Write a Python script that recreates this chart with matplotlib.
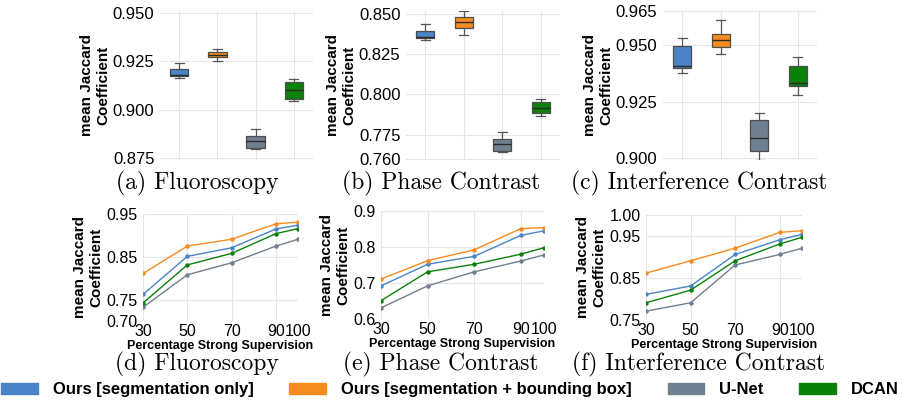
import matplotlib
matplotlib.use("Agg")
import matplotlib.pyplot as plt
from matplotlib.patches import Patch

plt.rcParams['font.family'] = ['Liberation Sans', 'DejaVu Sans']

# methods / colours
methods = ["Ours [segmentation only]", "Ours [segmentation + bounding box]", "U-Net", "DCAN"]
colors = ["#4a84c6", "#f68b1f", "#708090", "#0b800b"]

# box plot stats: (whislo, q1, med, q3, whishi) per method
fluo_box = [(0.9162, 0.9173, 0.9178, 0.9209, 0.9240),
            (0.9250, 0.9271, 0.9283, 0.9297, 0.9312),
            (0.8795, 0.8803, 0.8836, 0.8864, 0.8898),
            (0.9043, 0.9057, 0.9102, 0.9145, 0.9157)]
phase_box = [(0.8334, 0.8350, 0.8356, 0.8395, 0.8436),
             (0.8370, 0.8409, 0.8446, 0.8481, 0.8518),
             (0.7643, 0.7647, 0.7692, 0.7723, 0.7766),
             (0.7867, 0.7883, 0.7914, 0.7949, 0.7970)]
inter_box = [(0.9375, 0.9398, 0.9410, 0.9496, 0.9530),
             (0.9460, 0.9490, 0.9525, 0.9549, 0.9610),
             (0.8992, 0.9031, 0.9090, 0.9169, 0.9199),
             (0.9282, 0.9320, 0.9331, 0.9406, 0.9450)]

# line plots: percentage of strong supervision vs mean Jaccard
pct = [30, 50, 70, 90, 100]
fluo_lines = [[0.762, 0.851, 0.871, 0.915, 0.924],
              [0.811, 0.875, 0.891, 0.927, 0.931],
              [0.732, 0.808, 0.836, 0.875, 0.891],
              [0.742, 0.831, 0.858, 0.904, 0.916]]
phase_lines = [[0.692, 0.752, 0.774, 0.832, 0.845],
               [0.711, 0.762, 0.792, 0.851, 0.854],
               [0.631, 0.692, 0.731, 0.761, 0.778],
               [0.651, 0.731, 0.752, 0.780, 0.798]]
inter_lines = [[0.811, 0.831, 0.906, 0.941, 0.954],
               [0.8615, 0.891, 0.921, 0.9586, 0.9626],
               [0.771, 0.791, 0.881, 0.906, 0.921],
               [0.791, 0.821, 0.891, 0.931, 0.947]]

top_ticks = [[0.875, 0.900, 0.925, 0.950],
             [0.760, 0.775, 0.800, 0.825, 0.850],
             [0.900, 0.925, 0.950, 0.965]]
top_lims = [(0.874, 0.951), (0.7592, 0.8516), (0.8993, 0.9651)]
bot_ticks = [[0.70, 0.75, 0.85, 0.95],
             [0.6, 0.7, 0.8, 0.9],
             [0.75, 0.85, 0.95, 1.00]]
bot_fmt = ["{:.2f}", "{:.1f}", "{:.2f}"]
bot_lims = [(0.70, 0.95), (0.6, 0.9), (0.75, 1.0)]

top_caps = ["(a) Fluoroscopy", "(b) Phase Contrast", "(c) Interference Contrast"]
bot_caps = ["(d) Fluoroscopy", "(e) Phase Contrast", "(f) Interference Contrast"]

W, H = 902, 404
fig = plt.figure(figsize=(W / 100, H / 100), dpi=100)


def px_axes(x0, y0, x1, y1):
    return fig.add_axes([x0 / W, 1 - y1 / H, (x1 - x0) / W, (y1 - y0) / H])


def clean(ax):
    for s in ax.spines.values():
        s.set_visible(False)
    ax.grid(True, color="#e6e6e6", linewidth=0.8)
    ax.set_axisbelow(True)
    ax.tick_params(length=0, pad=4)


# top row: box plots
top_pos = [(160, 11, 313, 160), (406, 11, 560, 160), (663, 11, 817, 160)]
for i, (data, pos) in enumerate(zip([fluo_box, phase_box, inter_box], top_pos)):
    ax = px_axes(*pos)
    stats = [dict(whislo=d[0], q1=d[1], med=d[2], q3=d[3], whishi=d[4]) for d in data]
    bp = ax.bxp(stats, positions=range(4), widths=0.48, patch_artist=True, showfliers=False,
                medianprops=dict(color="#2b2b2b", linewidth=1.0),
                whiskerprops=dict(color="#555555", linewidth=0.9),
                capprops=dict(color="#555555", linewidth=0.9),
                boxprops=dict(edgecolor="#4d4d4d", linewidth=0.9))
    for patch, c in zip(bp["boxes"], colors):
        patch.set_facecolor(c)
    ax.set_xlim(-0.5, 3.5)
    ax.set_ylim(*top_lims[i])
    ax.set_yticks(top_ticks[i])
    ax.set_yticklabels(["{:.3f}".format(t) for t in top_ticks[i]], fontsize=12)
    ax.set_xticks(range(4))
    ax.set_xticklabels([])
    clean(ax)
    ax.set_ylabel("mean Jaccard\nCoefficient", fontsize=11, fontweight="bold", labelpad=2)

# bottom row: line plots
bot_pos = [(143, 214, 298, 321), (381, 211, 544, 319), (646, 215, 802, 320)]
for i, (data, pos) in enumerate(zip([fluo_lines, phase_lines, inter_lines], bot_pos)):
    ax = px_axes(*pos)
    for vals, c in zip(data, colors):
        ax.plot(pct, vals, color=c, linewidth=1.0, marker="o", markersize=2.2)
    ax.set_xlim(30, 100)
    ax.set_xticks(pct)
    ax.set_xticklabels([str(p) for p in pct], fontsize=11.5)
    ax.set_ylim(*bot_lims[i])
    ax.set_yticks(bot_ticks[i])
    ax.set_yticklabels([bot_fmt[i].format(t) for t in bot_ticks[i]], fontsize=11.5)
    clean(ax)
    ax.tick_params(axis="x", pad=2)
    ax.set_ylabel("mean Jaccard\nCoefficient", fontsize=11, fontweight="bold", labelpad=2)
    ax.set_xlabel("Percentage Strong Supervision", fontsize=9, fontweight="bold", labelpad=1)

# sub-captions
cap_x = [197, 441, 699]
for cx, t in zip(cap_x, top_caps):
    fig.text(cx / W, 1 - 183 / H, t, family="cmr10", fontsize=17, ha="center", va="center")
for cx, t in zip(cap_x, bot_caps):
    fig.text(cx / W, 1 - 364 / H, t, family="cmr10", fontsize=17, ha="center", va="center")

handles = [Patch(facecolor=c, edgecolor=c) for c in colors]
fig.legend(handles, methods, loc="lower left", bbox_to_anchor=(-0.006, 0.0, 1.01, 0.075),
           mode="expand", ncol=4, frameon=False, handlelength=2.2, handleheight=0.6,
           handletextpad=0.9, borderaxespad=0.0,
           prop=dict(family="Liberation Sans", weight="bold", size=12))

fig.savefig("out.png", dpi=100)
